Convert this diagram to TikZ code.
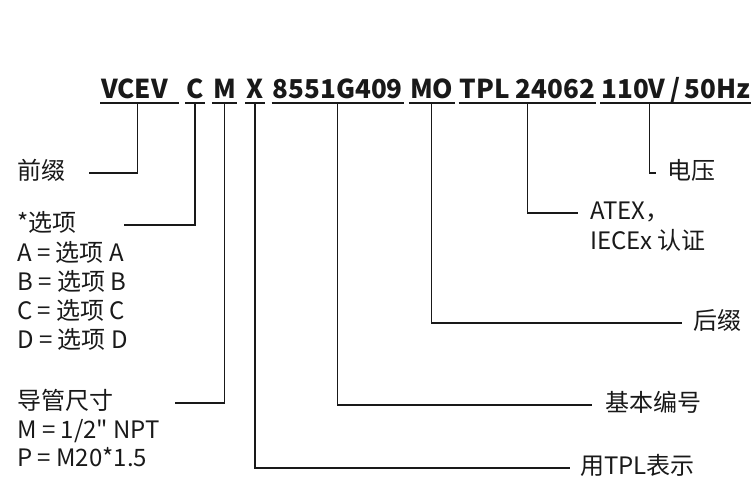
\documentclass[tikz,border=0pt]{standalone}
\usepackage{fontspec}
\setmainfont{Noto Sans CJK SC}[Ligatures=TeXOff]
\usetikzlibrary{positioning,calc}
\definecolor{inkblack}{RGB}{25,25,25}
\tikzset{
  code/.style ={font=\fontsize{26}{30}\selectfont\bfseries, text=inkblack,
                inner xsep=1pt, inner ysep=5pt, text height=19pt, text depth=0pt},
  lbl/.style  ={font=\fontsize{24}{28.5}\selectfont, text=inkblack, inner sep=0pt,
                text height=17pt, text depth=5pt},
  uline/.style={line width=1.6pt, draw=inkblack},
  conn/.style ={line width=1.3pt, draw=inkblack}
}

\begin{document}
\begin{tikzpicture}[x=1pt, y=1pt]
  \useasboundingbox (0,0) rectangle (751,-482);

  % model code
  \node[code, anchor=base west] at (100,-98) (vcev) {VCEV\kern10pt};
  \node[code, base right=6pt of vcev] (opt) {C};
  \node[code, base right=7pt of opt] (cond) {M};
  \node[code, base right=8pt of cond] (tpl) {X};
  \node[code, base right=7pt of tpl] (base) {8551G409};
  \node[code, base right=5pt of base] (suf) {MO};
  \node[code, base right=4pt of suf] (cert) {TPL 24062};
  \node[code, base right=4pt of cert] (volt) {110V\kern4.5pt/\kern4.5pt50Hz};

  \foreach \t in {vcev,opt,cond,tpl,base,suf,cert,volt}
    \draw[uline] (\t.south west) -- (\t.south east);

  % left side
  \node[lbl, anchor=west] at (17,-173) (pfx) {前缀};
  \node[lbl, anchor=west] at (17,-225) (optt) {*选项};
  \node[lbl, below=8pt of optt.south west, anchor=north west] (opta) {A = 选项 A};
  \node[lbl, below=6.5pt of opta.south west, anchor=north west] (optb) {B = 选项 B};
  \node[lbl, below=6.5pt of optb.south west, anchor=north west] (optc) {C = 选项 C};
  \node[lbl, below=6.5pt of optc.south west, anchor=north west] (optd) {D = 选项 D};
  \node[lbl, anchor=west] at (17,-403) (condt) {导管尺寸};
  \node[lbl, below=7pt of condt.south west, anchor=north west] (condm) {M = 1/2" NPT};
  \node[lbl, below=6pt of condm.south west, anchor=north west] (condp) {P = M20*1.5};

  % right side
  \node[lbl, anchor=west] at (667,-173) (voltt) {电压};
  \node[lbl, anchor=west] at (590,-213) (certt) {ATEX，};
  \node[lbl, below=8pt of certt.south west, anchor=north west] (certl) {IECEx 认证};
  \node[lbl, anchor=west] at (693,-323) (suft) {后缀};
  \node[lbl, anchor=west] at (605,-405) (baset) {基本编号};
  \node[lbl, anchor=west] at (580,-468) (tplt) {用TPL表示};

  \draw[conn] ([xshift=-2pt]vcev.south) |- ([xshift=24pt]pfx.east);
  \draw[conn] (opt.south) |- ([xshift=47pt]optt.east);
  \draw[conn] (cond.south) |- ([xshift=62pt]condt.east);
  \draw[conn] (tpl.south) |- ([xshift=-10pt]tplt.west);
  \draw[conn] (base.south) |- ([xshift=-13pt]baset.west);
  \draw[conn] (suf.south) |- ([xshift=-11pt]suft.west);
  \draw[conn] (cert.south) |- ([xshift=-12pt]certt.west);
  \draw[conn] ([xshift=49pt]volt.south west) |- ([xshift=-11pt]voltt.west);
\end{tikzpicture}
\end{document}
